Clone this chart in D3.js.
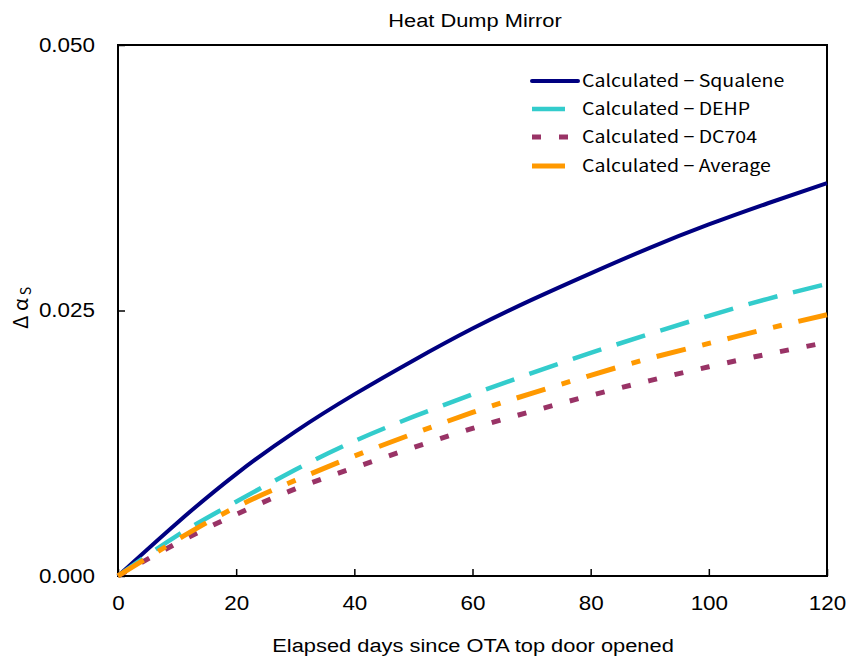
<!DOCTYPE html>
<html>
<head>
<meta charset="utf-8">
<script src="https://cdn.jsdelivr.net/npm/d3@7"></script>
<style>
  html, body { margin: 0; padding: 0; background: #fff; }
  svg { display: block; }
</style>
</head>
<body>
<svg id="chart" width="849" height="664"></svg>
<script>
// ---- Data ----
const days = [0, 10, 20, 30, 40, 50, 60, 70, 80, 90, 100, 110, 120];
const squalene = [0, 0.0050, 0.0096, 0.0136, 0.0171, 0.0203, 0.0233, 0.0260, 0.0285, 0.0309, 0.0331, 0.0351, 0.0370];
const dehp     = [0, 0.0038, 0.0070, 0.0100, 0.0127, 0.0150, 0.0171, 0.0191, 0.0210, 0.0228, 0.0245, 0.0261, 0.0275];
const dc704    = [0, 0.0031, 0.0058, 0.0082, 0.0102, 0.0121, 0.0139, 0.0155, 0.0170, 0.0184, 0.0197, 0.0209, 0.0220];
const average  = [0, 0.0034, 0.0065, 0.0090, 0.0113, 0.0134, 0.0154, 0.0172, 0.0189, 0.0205, 0.0219, 0.0233, 0.0246];
const seriesNames = ["Calculated \u2212 Squalene", "Calculated \u2212 DEHP", "Calculated \u2212 DC704", "Calculated \u2212 Average"];
const xTicks = [0, 20, 40, 60, 80, 100, 120];
const yTicks = [0, 0.025, 0.05];
const chartTitle = "Heat Dump Mirror";
const xTitle = "Elapsed days since OTA top door opened";

// ---- Styles ----
const SX = 1.15; // horizontal stretch of text seen in the reference
const styles = [
  { color: "#000080", width: 4,   dash: null,           legendDash: null },
  { color: "#33CCCC", width: 4.5, dash: "30,16",        legendDash: null },
  { color: "#993366", width: 5,   dash: "9,18",         legendDash: "9,18" },
  { color: "#FF9900", width: 5,   dash: "30,17,9,17",   legendDash: null }
];
const allSeries = [squalene, dehp, dc704, average];

const svg = d3.select("#chart");
const m = { left: 118, right: 827, top: 45, bottom: 576 };

const x = d3.scaleLinear().domain([0, 120]).range([m.left, m.right]);
const y = d3.scaleLinear().domain([0, 0.05]).range([m.bottom, m.top]);

// Frame
svg.append("rect")
  .attr("x", m.left).attr("y", m.top)
  .attr("width", m.right - m.left).attr("height", m.bottom - m.top)
  .attr("fill", "none").attr("stroke", "#000").attr("stroke-width", 2);

// Axes (ticks inward)
const xAxis = d3.axisBottom(x).tickValues(xTicks).tickSize(-7).tickPadding(20).tickFormat(d3.format("d"));
const gx = svg.append("g").attr("transform", `translate(0,${m.bottom})`).call(xAxis);
gx.select(".domain").remove();
gx.selectAll(".tick line").attr("stroke", "#000").attr("stroke-width", 1.5);
gx.selectAll(".tick text")
  .attr("font-family", "Liberation Sans, Arial, sans-serif").attr("font-size", 19.5).attr("fill", "#000")
  .attr("transform", `scale(${SX},1)`);

const yAxis = d3.axisLeft(y).tickValues(yTicks).tickSize(-7).tickPadding(23).tickFormat(d3.format(".3f"));
const gy = svg.append("g").attr("transform", `translate(${m.left},0)`).call(yAxis);
gy.select(".domain").remove();
gy.selectAll(".tick line").attr("stroke", "#000").attr("stroke-width", 1.5);
gy.selectAll(".tick text")
  .attr("font-family", "Liberation Sans, Arial, sans-serif").attr("font-size", 19.5).attr("fill", "#000")
  .attr("transform", `translate(-23,0) scale(${SX},1) translate(23,0)`);

// Lines
const line = d3.line()
  .x((d, i) => x(days[i]))
  .y(d => y(d))
  .curve(d3.curveNatural);

allSeries.forEach((s, k) => {
  svg.append("path")
    .datum(s)
    .attr("d", line)
    .attr("fill", "none")
    .attr("stroke", styles[k].color)
    .attr("stroke-width", styles[k].width)
    .attr("stroke-dasharray", styles[k].dash)
    .attr("stroke-linejoin", "round");
});

// Legend
const legendX1 = 532, textX = 582;
const legendRows = [81, 109, 137, 166];
const legendEnds = [578, 565, 569, 565];
seriesNames.forEach((name, k) => {
  const ly = legendRows[k];
  svg.append("line")
    .attr("x1", legendX1).attr("x2", legendEnds[k])
    .attr("y1", ly).attr("y2", ly)
    .attr("stroke", styles[k].color)
    .attr("stroke-width", styles[k].width)
    .attr("stroke-linecap", k === 0 ? "round" : "butt")
    .attr("stroke-dasharray", styles[k].legendDash);
  svg.append("text")
    .attr("transform", `translate(${textX},${ly}) scale(${SX},1)`)
    .attr("dy", "0.36em")
    .attr("font-family", "Noto Sans CJK JP, sans-serif")
    .attr("font-size", 17)
    .attr("fill", "#000")
    .text(name);
});

// Title
svg.append("text")
  .attr("transform", `translate(475,27) scale(${SX},1)`)
  .attr("text-anchor", "middle")
  .attr("font-family", "Liberation Sans, Arial, sans-serif")
  .attr("font-size", 19)
  .attr("fill", "#000")
  .text(chartTitle);

// X axis title
svg.append("text")
  .attr("transform", `translate(473,652) scale(${SX},1)`)
  .attr("text-anchor", "middle")
  .attr("font-family", "Liberation Sans, Arial, sans-serif")
  .attr("font-size", 19)
  .attr("fill", "#000")
  .text(xTitle);

// Y axis title
const yt = svg.append("text")
  .attr("transform", "translate(28,308) rotate(-90)")
  .attr("text-anchor", "middle")
  .attr("font-family", "Noto Sans CJK JP, sans-serif")
  .attr("font-size", 20.5)
  .attr("fill", "#000");
yt.append("tspan").text("\u0394 \u03B1");
yt.append("tspan").attr("font-size", 14).attr("dy", 3).attr("dx", 3).text("S");
</script>
</body>
</html>
